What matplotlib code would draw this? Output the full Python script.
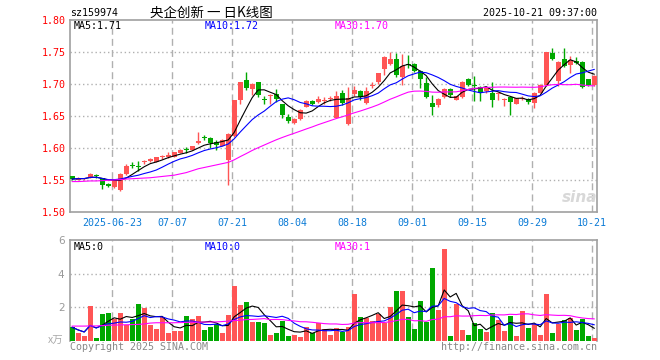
import numpy as np
import pandas as pd
import matplotlib
matplotlib.use('Agg')
import matplotlib.pyplot as plt

plt.rcParams['font.family'] = ['DejaVu Sans Mono']

# 交易日 (国庆休市)
holidays = ['2025-10-01', '2025-10-02', '2025-10-03', '2025-10-06', '2025-10-07', '2025-10-08']
dates = pd.bdate_range('2025-06-12', '2025-10-21', freq='C', holidays=holidays)

opens = [1.556, 1.551, 1.552, 1.555, 1.557, 1.553, 1.544, 1.539, 1.535, 1.560,
         1.573, 1.573, 1.578, 1.580, 1.579, 1.586, 1.586, 1.587, 1.593, 1.598,
         1.597, 1.609, 1.618, 1.616, 1.610, 1.604, 1.581, 1.619, 1.675, 1.707,
         1.693, 1.703, 1.677, 1.682, 1.685, 1.669, 1.649, 1.639, 1.646, 1.665,
         1.674, 1.672, 1.674, 1.677, 1.648, 1.687, 1.638, 1.685, 1.690, 1.671,
         1.697, 1.703, 1.724, 1.732, 1.740, 1.712, 1.731, 1.732, 1.721, 1.702,
         1.671, 1.667, 1.680, 1.693, 1.676, 1.680, 1.708, 1.699, 1.696, 1.690,
         1.687, 1.685, 1.676, 1.680, 1.670, 1.677, 1.677, 1.671, 1.687, 1.699,
         1.749, 1.705, 1.740, 1.730, 1.736, 1.735, 1.708, 1.699]
closes = [1.552, 1.553, 1.553, 1.560, 1.556, 1.543, 1.541, 1.550, 1.560, 1.573,
          1.572, 1.571, 1.580, 1.584, 1.586, 1.588, 1.589, 1.594, 1.597, 1.597,
          1.603, 1.611, 1.616, 1.608, 1.605, 1.613, 1.623, 1.675, 1.703, 1.695,
          1.700, 1.683, 1.676, 1.684, 1.677, 1.652, 1.643, 1.646, 1.660, 1.674,
          1.669, 1.677, 1.675, 1.679, 1.682, 1.671, 1.678, 1.691, 1.680, 1.690,
          1.699, 1.717, 1.743, 1.740, 1.714, 1.729, 1.730, 1.721, 1.708, 1.680,
          1.665, 1.677, 1.693, 1.683, 1.681, 1.704, 1.699, 1.698, 1.687, 1.694,
          1.676, 1.686, 1.677, 1.673, 1.678, 1.678, 1.672, 1.687, 1.699, 1.750,
          1.740, 1.735, 1.729, 1.738, 1.733, 1.696, 1.699, 1.713]
highs = [1.557, 1.555, 1.554, 1.561, 1.560, 1.554, 1.546, 1.551, 1.561, 1.575,
         1.579, 1.580, 1.581, 1.585, 1.587, 1.590, 1.594, 1.595, 1.599, 1.602,
         1.604, 1.625, 1.620, 1.617, 1.613, 1.614, 1.624, 1.676, 1.704, 1.719,
         1.702, 1.704, 1.682, 1.685, 1.693, 1.670, 1.653, 1.647, 1.661, 1.675,
         1.675, 1.682, 1.680, 1.681, 1.689, 1.691, 1.696, 1.698, 1.691, 1.696,
         1.703, 1.718, 1.744, 1.750, 1.749, 1.747, 1.746, 1.733, 1.722, 1.711,
         1.683, 1.678, 1.694, 1.694, 1.682, 1.705, 1.710, 1.713, 1.697, 1.695,
         1.703, 1.688, 1.678, 1.681, 1.679, 1.681, 1.678, 1.688, 1.700, 1.751,
         1.757, 1.736, 1.756, 1.744, 1.743, 1.736, 1.709, 1.714]
lows = [1.551, 1.550, 1.551, 1.554, 1.553, 1.537, 1.539, 1.538, 1.533, 1.559,
        1.569, 1.565, 1.576, 1.579, 1.578, 1.584, 1.585, 1.586, 1.592, 1.593,
        1.597, 1.607, 1.613, 1.600, 1.598, 1.603, 1.542, 1.617, 1.670, 1.691,
        1.683, 1.680, 1.669, 1.670, 1.673, 1.648, 1.639, 1.638, 1.645, 1.664,
        1.667, 1.671, 1.670, 1.674, 1.647, 1.668, 1.636, 1.682, 1.676, 1.670,
        1.694, 1.701, 1.715, 1.730, 1.711, 1.699, 1.725, 1.720, 1.695, 1.678,
        1.652, 1.664, 1.678, 1.680, 1.675, 1.679, 1.697, 1.674, 1.674, 1.687,
        1.664, 1.676, 1.666, 1.652, 1.669, 1.675, 1.670, 1.663, 1.686, 1.698,
        1.738, 1.698, 1.727, 1.717, 1.732, 1.695, 1.697, 1.698]
# 成交量 (万)
volumes = [0.80, 0.48, 0.28, 2.08, 0.16, 1.60, 1.66, 1.32, 1.66, 0.96,
           1.32, 2.20, 1.96, 0.96, 0.72, 1.40, 0.48, 0.60, 0.60, 1.50,
           1.30, 1.48, 0.66, 0.84, 1.00, 0.48, 1.56, 3.24, 2.10, 2.32,
           1.10, 1.14, 1.08, 0.36, 0.46, 1.20, 0.30, 0.36, 0.24, 0.84,
           0.44, 1.04, 0.72, 0.36, 0.74, 0.49, 0.80, 2.78, 1.41, 1.35,
           1.20, 1.60, 1.05, 2.02, 2.97, 2.97, 1.41, 0.70, 2.37, 1.11,
           4.34, 1.83, 5.47, 0.28, 2.18, 0.65, 0.34, 1.05, 0.69, 0.51,
           1.64, 1.23, 0.57, 1.47, 0.28, 1.76, 0.75, 0.99, 0.34, 2.77,
           0.46, 0.99, 1.23, 1.35, 0.63, 1.29, 0.28, 0.16]
# MA30 前29天 (依赖图外更早的数据, 从图上读出)
ma30_head = [1.548, 1.548, 1.5485, 1.549, 1.549, 1.5495, 1.550, 1.5505, 1.551, 1.552,
             1.5525, 1.553, 1.5535, 1.554, 1.555, 1.556, 1.557, 1.558, 1.560, 1.562,
             1.565, 1.568, 1.570, 1.572, 1.574, 1.576, 1.578, 1.582, 1.587]
vma30_head = [0.87, 0.87, 0.87, 0.88, 0.88, 0.90, 0.92, 0.93, 0.94, 0.95,
              0.96, 0.97, 1.00, 1.05, 1.07, 1.07, 1.07, 1.07, 1.08, 1.09,
              1.10, 1.10, 1.11, 1.11, 1.12, 1.14, 1.17, 1.20, 1.22]

tick_dates = ['2025-06-23', '2025-07-07', '2025-07-21', '2025-08-04', '2025-08-18',
              '2025-09-01', '2025-09-15', '2025-09-29', '2025-10-21']
tick_labels = ['2025-06-23', '07-07', '07-21', '08-04', '08-18',
               '09-01', '09-15', '09-29', '10-21']
price_ticks = [1.50, 1.55, 1.60, 1.65, 1.70, 1.75, 1.80]
vol_ticks = [2, 4, 6]
price_ma_labels = ['MA5:1.71', 'MA10:1.72', 'MA30:1.70']
vol_ma_labels = ['MA5:0', 'MA10:0', 'MA30:1']

RED = '#ff5555'
GREEN = '#00a800'
GRID = '#b0b0b0'
FRAME = '#a0a0a0'
ma_colors = ['black', '#0000ff', '#ff00ff']

o = np.array(opens); c = np.array(closes)
h = np.array(highs); l = np.array(lows)
v = np.array(volumes)
x = np.arange(len(dates))
colors = np.where(c >= o, RED, GREEN)

cs = pd.Series(c)
ma5 = cs.rolling(5, min_periods=1).mean()
ma10 = cs.rolling(10, min_periods=1).mean()
ma30 = cs.rolling(30).mean()
ma30.iloc[:len(ma30_head)] = ma30_head
vs = pd.Series(v)
vma5 = vs.rolling(5, min_periods=1).mean()
vma10 = vs.rolling(10, min_periods=1).mean()
vma30 = vs.rolling(30).mean()
vma30.iloc[:len(vma30_head)] = vma30_head

tick_pos = np.array([dates.get_loc(pd.Timestamp(d)) for d in tick_dates]) - 0.33

W, H = 660, 360
fig = plt.figure(figsize=(6.6, 3.6), dpi=100)
ax = fig.add_axes([70 / W, 1 - 212.3 / H, 527 / W, 192 / H])
axv = fig.add_axes([70 / W, 1 - 340.7 / H, 527 / W, 100.7 / H])

for a in (ax, axv):
    a.set_xlim(-0.37, 87.47)
    for t in tick_pos:
        a.axvline(t, color=GRID, lw=1, ls=(0, (5, 3)), zorder=0)
    for s in a.spines.values():
        s.set_color(FRAME)
        s.set_linewidth(1.2)
    a.tick_params(length=0)

# K线
body = np.maximum(np.abs(c - o), 0.0016)
ax.vlines(x, l, h, colors=colors, lw=1, zorder=2)
ax.bar(x, body, bottom=np.minimum(o, c), width=0.82, color=colors, zorder=3)
for ma, col in zip((ma5, ma10, ma30), ma_colors):
    ax.plot(x, ma, color=col, lw=0.8, zorder=4)

ax.set_ylim(1.50, 1.80)
ax.set_yticks(price_ticks)
ax.set_yticklabels(['%.2f' % p for p in price_ticks], color='red', fontsize=7.2)
for p in price_ticks[1:-1]:
    ax.axhline(p, color=GRID, lw=1, ls=(0, (1, 2)), zorder=0)
ax.set_xticks(tick_pos)
ax.set_xticklabels(tick_labels, color='#0b7bd6', fontsize=7.2)
ax.tick_params(axis='y', pad=3)
ax.tick_params(axis='x', pad=4)

# 成交量
axv.bar(x, v, width=0.82, color=colors, zorder=3)
for ma, col in zip((vma5, vma10, vma30), ma_colors):
    axv.plot(x, ma, color=col, lw=0.8, zorder=4)
axv.set_ylim(0, 6)
axv.set_yticks(vol_ticks)
axv.set_yticklabels([str(t) for t in vol_ticks], color='#999999', fontsize=7.5,
                    family='DejaVu Sans')
for t in vol_ticks[:-1]:
    axv.axhline(t, color=GRID, lw=1, ls=(0, (1, 2)), zorder=0)
axv.set_xticks([])
axv.spines['bottom'].set_visible(False)
axv.tick_params(axis='y', pad=4)

def ftext(px, py, s, **kw):
    fig.text(px / W, 1 - py / H, s, va='center', **kw)

ftext(70, 13, 'sz159974', fontsize=7.2, color='black')
ftext(150, 13, '央企创新 一 日K线图', fontsize=9.7, color='black',
      family=['Noto Sans CJK SC', 'DejaVu Sans'])
ftext(597, 13, '2025-10-21 09:37:00', fontsize=7.2, color='black', ha='right')
for lbl, px, col in zip(price_ma_labels, (74, 205, 335), ma_colors):
    ftext(px, 26, lbl, fontsize=7.2, color=col)
for lbl, px, col in zip(vol_ma_labels, (74, 205, 335), ma_colors):
    ftext(px, 247, lbl, fontsize=7.2, color=col)
ftext(63, 341, 'x万', fontsize=7.5, color='#aaaaaa', ha='right', style='italic',
      family=['Noto Sans CJK SC', 'DejaVu Sans'])
ftext(70, 347, 'Copyright 2025 SINA.COM', fontsize=7.2, color='#888888')
ftext(597, 347, 'http://finance.sina.com.cn', fontsize=7.2, color='#888888', ha='right')
ftext(580, 197, 'sina', fontsize=11, color='#d8d8d8', ha='center', weight='bold',
      style='italic', family='DejaVu Sans')

fig.savefig('out.png', dpi=100)
